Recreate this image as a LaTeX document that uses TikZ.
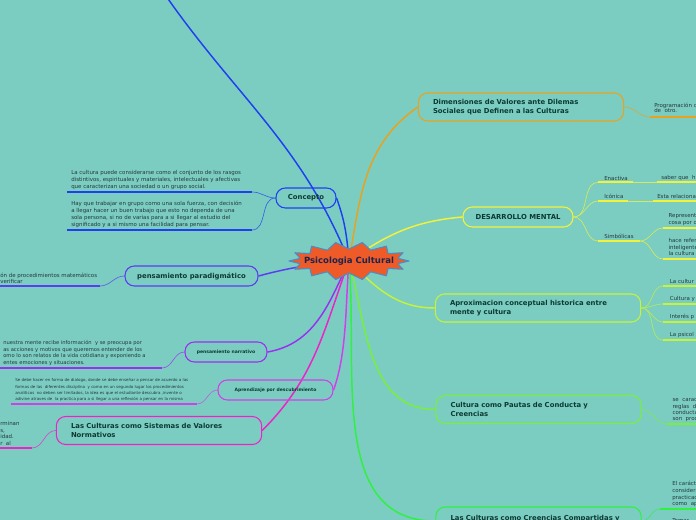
\documentclass[tikz,border=0pt]{standalone}
\usepackage{fontspec}
\setmainfont{DejaVu Sans}
\usepackage{tikz}
\usetikzlibrary{positioning}
\definecolor{bg}{HTML}{7BCDC2}
\definecolor{conc}{HTML}{2040F0}
\definecolor{dimc}{HTML}{E8A21E}
\definecolor{desc}{HTML}{F2F23A}
\definecolor{aprc}{HTML}{C6F23A}
\definecolor{pauc}{HTML}{78F03A}
\definecolor{crec}{HTML}{30F040}
\definecolor{sisc}{HTML}{EE22C8}
\definecolor{desbc}{HTML}{D040E8}
\definecolor{narc}{HTML}{9A30F0}
\definecolor{parc}{HTML}{5B3CF0}
\definecolor{ink}{HTML}{0C3A32}
\definecolor{hubink}{HTML}{1A2550}
\definecolor{leafink}{HTML}{25383A}
\definecolor{starfill}{HTML}{EE5A28}
\definecolor{starline}{HTML}{4E8CC4}
\pgfdeclarelayer{back}
\pgfsetlayers{back,main}
\tikzset{
  hub/.style={text=hubink, font=\fontsize{6.4}{7}\selectfont\bfseries},
  starshape/.style={fill=starfill, draw=starline, line width=0.8pt, line join=round},
  topic/.style={draw=#1, line width=0.8pt, rounded corners=7pt, text=ink, minimum height=15pt, font=\fontsize{5.15}{6.7}\selectfont\bfseries},
  wide/.style={align=left, text width=132pt, inner xsep=11pt, minimum height=21pt},
  minor/.style={font=\fontsize{3.4}{4}\selectfont\bfseries},
  leaf/.style={anchor=south west, align=left, inner xsep=3pt, inner ysep=1.5pt, text=leafink, font=\fontsize{4.1}{5.2}\selectfont},
  rleaf/.style={leaf, inner xsep=5pt},
  branch/.style={draw=#1, line width=1.1pt},
  twig/.style={draw=#1!75!bg, line width=0.5pt},
  ul/.style={draw=#1, line width=1.5pt}
}
\begin{document}
\begin{tikzpicture}[x=0.75pt, y=-0.75pt]
  \useasboundingbox (0,0) rectangle (696,520);

  \draw[starshape] plot[samples at={0,...,27}, variable=\k]
    ({349+(60-10*mod(\k,2))*cos(\k*360/28)}, {261+(19-7*mod(\k,2))*sin(\k*360/28)}) -- cycle;
  \node[hub] (psico) at (349,261) {Psicologia Cultural};

  \node[topic=conc, minimum width=45pt] (concepto) at (306,198) {Concepto};
  \node[topic=parc, minimum width=99.75pt] (paradig) at (191.5,276) {pensamiento paradigmático};
  \node[topic=narc, minor, minimum width=61.5pt] (narrativo) at (226,352) {pensamiento narrativo};
  \node[topic=desbc, minor, minimum width=86.25pt] (descub) at (275.5,390) {Aprendizaje por descubrimiento};
  \node[topic=sisc, wide] (sistemas) at (159,430.5) {Las Culturas como Sistemas de Valores\\Normativos};
  \node[topic=dimc, wide] (dimens) at (521,107) {Dimensiones de Valores ante Dilemas\\Sociales que Definen a las Culturas};
  \node[topic=desc, minimum width=82.5pt] (desarrollo) at (518,217) {DESARROLLO MENTAL};
  \node[topic=aprc, wide] (aproxim) at (538,308) {Aproximacion conceptual historica entre\\mente y cultura};
  \node[topic=pauc, wide] (pautas) at (538.5,409.5) {Cultura como Pautas de Conducta y\\Creencias};
  \node[topic=crec, wide, text depth=5pt] (creencias) at (538.5,521) {Las Culturas como Creencias Compartidas y};

  \coordinate (offtop) at (166,-4);

  \node[leaf] (conc1) at (67,192) {La cultura puede considerarse como el conjunto de los rasgos\\distintivos, espirituales y materiales, intelectuales y afectivas\\que caracterizan una sociedad o un grupo social.};
  \coordinate (conc1e) at (252,192);
  \node[leaf] (conc2) at (67,230) {Hay que trabajar en grupo como una sola fuerza, con decisión\\a llegar hacer un buen trabajo que esto no dependa de una\\sola persona, si no de varias para a si llegar al estudio del\\significado y a si mismo una facilidad para pensar.};
  \coordinate (conc2e) at (252,230);
  \node[leaf, font=\fontsize{4.1}{4.6}\selectfont] (parad1) at (-4,286) {ón de procedimientos matemáticos\\verificar};
  \coordinate (parad1e) at (100,286);
  \node[leaf, font=\fontsize{3.9}{5}\selectfont] (narr1) at (-1,368) {nuestra mente recibe información\ \ y se preocupa por\\as acciones y motivos que queremos entender de los\\omo lo son relatos de la vida cotidiana y exponiendo a\\entes emociones y situaciones.};
  \coordinate (narr1e) at (162,368);
  \node[leaf, font=\fontsize{3}{4.8}\selectfont] (desc1) at (11,404) {Se debe hacer en forma de dialogo, donde se debe enseñar a pensar de acuerdo a las\\formas de las\ \ diferentes disciplina\ \ y como en un segundo lugar los procedimientos\\analiticos\ \ no deben ser limitados, la idea es que el estudiante descubra ,invente o\\adivine atraves de\ \ la practica para a si llegar a una reflexión a pensar en la misma};
  \coordinate (desc1e) at (197,404);
  \node[leaf, font=\fontsize{4.1}{5}\selectfont] (sist1) at (-4,448) {rminan\\s,\\idad.\\r\ \ al};
  \coordinate (sist1e) at (32,448);

  \node[leaf, inner ysep=3pt, font=\fontsize{4.1}{4.2}\selectfont] (dim1) at (650,117) {Programación c\\de\ \ otro.};
  \coordinate (dim1e) at (700,117);
  \node[leaf, inner xsep=4.5pt] (enact) at (598,182.5) {Enactiva};
  \coordinate (enacte) at (633,182.5);
  \node[leaf] (saber) at (657,182.5) {saber que\ \ h};
  \coordinate (sabere) at (700,182.5);
  \node[leaf, inner xsep=4.5pt] (iconi) at (598,201) {Icónica};
  \coordinate (iconie) at (628,201);
  \node[leaf] (relac) at (653,201) {Esta relaciona};
  \coordinate (relace) at (700,201);
  \node[leaf, inner xsep=4.5pt] (simbo) at (598,241) {Simbólicas};
  \coordinate (simboe) at (640,241);
  \node[leaf, inner xsep=4pt] (repre) at (663,228) {Representa\\cosa por ot};
  \coordinate (repree) at (700,228);
  \node[leaf, inner xsep=4pt, font=\fontsize{4.1}{4.9}\selectfont] (refer) at (663,259) {hace refere\\inteligente\\la cultura y};
  \coordinate (refere) at (700,259);
  \node[rleaf] (apx1) at (663,286) {La cultur};
  \coordinate (apx1e) at (700,286);
  \node[rleaf] (apx2) at (663,304) {Cultura y};
  \coordinate (apx2e) at (700,304);
  \node[rleaf] (apx3) at (663,322) {Interés p};
  \coordinate (apx3e) at (700,322);
  \node[rleaf] (apx4) at (663,340) {La psicol};
  \coordinate (apx4e) at (700,340);
  \node[leaf, inner xsep=4pt, font=\fontsize{4.1}{4.7}\selectfont] (paut1) at (667,424) {se\ \ carac\\reglas\ \ d\\conducta\\son\ \ proc};
  \coordinate (paut1e) at (700,424);
  \node[leaf, inner xsep=9pt, font=\fontsize{4.1}{4.9}\selectfont] (cree1) at (660,509) {El caráct\\considera\\practicad\\como\ \ ap};
  \coordinate (cree1e) at (700,509);
  \node[leaf, inner xsep=9pt] (cree2) at (660,525) {Temas};
  \coordinate (cree2e) at (700,525);

  \begin{pgfonlayer}{back}
    \fill[bg] (0,0) rectangle (696,520);

    \draw[branch=conc] (psico.center) to[out=112,in=-55] (offtop);
    \draw[branch=conc] (psico.center) to[out=95,in=-70] (concepto.east);
    \draw[branch=dimc] (psico.center) to[out=80,in=215] (dimens.west);
    \draw[branch=desc] (psico.center) to[out=35,in=185] (desarrollo.west);
    \draw[branch=aprc] (psico.center) to[out=-45,in=180] (aproxim.west);
    \draw[branch=pauc] (psico.center) to[out=-75,in=180] (pautas.west);
    \draw[branch=crec] (psico.center) to[out=-85,in=180] (creencias.west);
    \draw[branch=sisc] (psico.center) to[out=-110,in=45] (sistemas.east);
    \draw[branch=desbc] (psico.center) to[out=-95,in=70,looseness=0.8] (descub.east);
    \draw[branch=narc] (psico.center) to[out=-115,in=10] (narrativo.east);
    \draw[branch=parc] (psico.center) to[out=185,in=15] (paradig.east);

    \draw[twig=conc] (concepto.west) to[out=180,in=0] (conc1e);
    \draw[twig=conc] (concepto.west) to[out=180,in=0] (conc2e);
    \draw[twig=parc] (paradig.west) to[out=180,in=0] (parad1e);
    \draw[twig=narc] (narrativo.west) to[out=180,in=0] (narr1e);
    \draw[twig=desbc] (descub.west) to[out=180,in=0] (desc1e);
    \draw[twig=sisc] (sistemas.west) to[out=180,in=0] (sist1e);
    \draw[twig=dimc] (dimens.east) to[out=0,in=180] (dim1.south west);
    \foreach \n in {enact, iconi, simbo}
      \draw[twig=desc] (desarrollo.east) to[out=0,in=180] (\n.south west);
    \draw[twig=desc] (enacte) -- (saber.south west);
    \draw[twig=desc] (iconie) -- (relac.south west);
    \draw[twig=desc] (simboe) to[out=0,in=180] (repre.south west);
    \draw[twig=desc] (simboe) to[out=0,in=180] (refer.south west);
    \foreach \n in {apx1, apx2, apx3, apx4}
      \draw[twig=aprc] (aproxim.east) to[out=0,in=180] (\n.south west);
    \draw[twig=pauc] (pautas.east) to[out=0,in=180] (paut1.south west);
    \draw[twig=crec] (creencias.east) to[out=0,in=180] (cree1.south west);
    \draw[twig=crec] (creencias.east) to[out=0,in=180] (cree2.south west);

    \foreach \n/\e/\c in {conc1/conc1e/conc, conc2/conc2e/conc, parad1/parad1e/parc,
        narr1/narr1e/narc, desc1/desc1e/desbc, sist1/sist1e/sisc, dim1/dim1e/dimc,
        enact/enacte/desc, saber/sabere/desc, iconi/iconie/desc, relac/relace/desc,
        simbo/simboe/desc, repre/repree/desc, refer/refere/desc,
        apx1/apx1e/aprc, apx2/apx2e/aprc, apx3/apx3e/aprc, apx4/apx4e/aprc,
        paut1/paut1e/pauc, cree1/cree1e/crec, cree2/cree2e/crec}
      \draw[ul=\c] (\n.south west) -- (\e);
  \end{pgfonlayer}
\end{tikzpicture}
\end{document}
